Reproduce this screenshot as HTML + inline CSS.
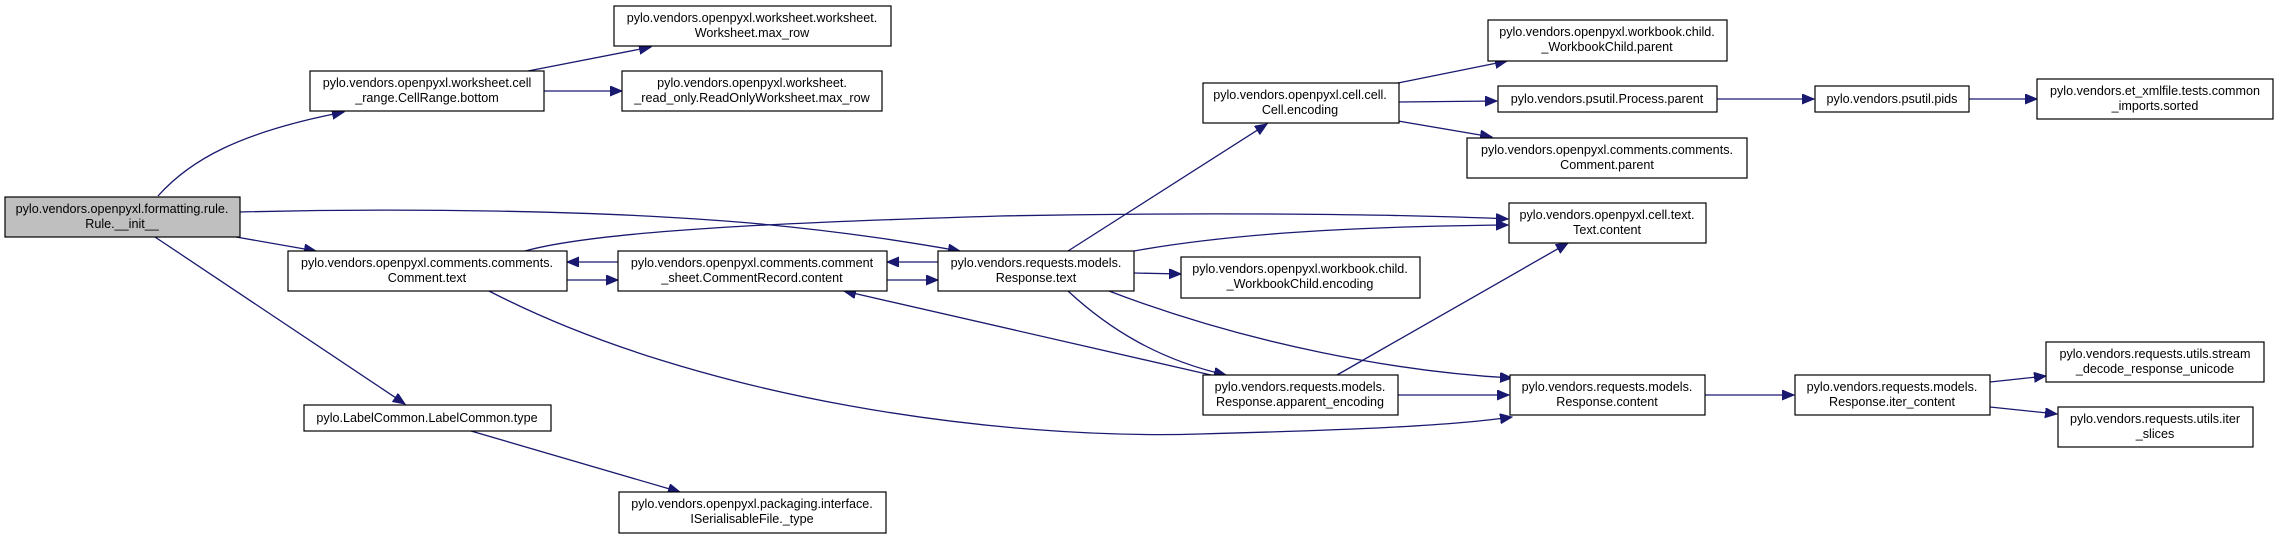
<!DOCTYPE html>
<html><head><meta charset="utf-8"><style>
html,body{margin:0;padding:0;background:#fff;}
svg{display:block;}
text{font-family:"Liberation Sans",sans-serif;font-size:12.6px;fill:#000;text-anchor:middle;}
rect{stroke:#000;stroke-width:1.2;fill:#fff;}
path{stroke:#191970;stroke-width:1.3;fill:none;}
</style></head><body>
<svg width="2279" height="539" viewBox="0 0 2279 539" xmlns="http://www.w3.org/2000/svg">
<defs>
<marker id="a" markerUnits="userSpaceOnUse" markerWidth="14" markerHeight="12" refX="12" refY="5" orient="auto">
<path d="M0,0 L12,5 L0,10 Z" style="fill:#191970;stroke:#191970;stroke-width:1"/>
</marker>
</defs>
<g marker-end="url(#a)">
<path d="M158,196 C190,160 240,132 344,112"/>
<path d="M528,71 L651,47"/>
<path d="M544,91 L622,91"/>
<path d="M240,212 C400,208 600,210 750,223 C850,232 920,244 960,251"/>
<path d="M525,251 C600,230 800,222 1000,216 C1200,212 1400,214 1508,219"/>
<path d="M236,237 L316,251"/>
<path d="M155,237 L405,404"/>
<path d="M471,431 L680,492"/>
<path d="M618,262 L567,262"/>
<path d="M567,280 L618,280"/>
<path d="M938,262 L887,262"/>
<path d="M887,280 L938,280"/>
<path d="M489,291 C700,400 1000,440 1200,434 C1350,430 1450,426 1512,417"/>
<path d="M1211,375 L844,291"/>
<path d="M1068,251 L1267,124"/>
<path d="M1134,273 L1181,274"/>
<path d="M1068,291 C1110,330 1160,360 1226,375"/>
<path d="M1109,291 C1250,345 1400,372 1512,378"/>
<path d="M1337,375 L1568,243"/>
<path d="M1134,251 C1250,230 1400,226 1508,225"/>
<path d="M1398,395 L1509,395"/>
<path d="M1398,83 L1507,61"/>
<path d="M1398,102 L1497,101"/>
<path d="M1398,121 L1492,137"/>
<path d="M1717,99 L1814,99"/>
<path d="M1969,99 L2037,99"/>
<path d="M1705,395 L1794,395"/>
<path d="M1990,382 L2046,376"/>
<path d="M1990,407 L2057,414"/>
</g>

<rect x="5" y="197" width="235" height="40" style="fill:#bfbfbf"/>
<text x="122" y="213">pylo.vendors.openpyxl.formatting.rule.</text>
<text x="122" y="228">Rule.__init__</text>

<rect x="310" y="71" width="234" height="40"/>
<text x="427" y="87">pylo.vendors.openpyxl.worksheet.cell</text>
<text x="427" y="102">_range.CellRange.bottom</text>

<rect x="614" y="6" width="277" height="40"/>
<text x="752" y="22">pylo.vendors.openpyxl.worksheet.worksheet.</text>
<text x="752" y="37">Worksheet.max_row</text>

<rect x="622" y="71" width="260" height="40"/>
<text x="752" y="87">pylo.vendors.openpyxl.worksheet.</text>
<text x="752" y="102">_read_only.ReadOnlyWorksheet.max_row</text>

<rect x="288" y="251" width="279" height="40"/>
<text x="427" y="267">pylo.vendors.openpyxl.comments.comments.</text>
<text x="427" y="282">Comment.text</text>

<rect x="618" y="251" width="269" height="40"/>
<text x="752" y="267">pylo.vendors.openpyxl.comments.comment</text>
<text x="752" y="282">_sheet.CommentRecord.content</text>

<rect x="304" y="405" width="247" height="26"/>
<text x="427" y="422">pylo.LabelCommon.LabelCommon.type</text>

<rect x="619" y="492" width="267" height="41"/>
<text x="752" y="508">pylo.vendors.openpyxl.packaging.interface.</text>
<text x="752" y="523">ISerialisableFile._type</text>

<rect x="938" y="251" width="196" height="40"/>
<text x="1036" y="267">pylo.vendors.requests.models.</text>
<text x="1036" y="282">Response.text</text>

<rect x="1203" y="83" width="196" height="40"/>
<text x="1300" y="99">pylo.vendors.openpyxl.cell.cell.</text>
<text x="1300" y="114">Cell.encoding</text>

<rect x="1181" y="257" width="239" height="41"/>
<text x="1300" y="273">pylo.vendors.openpyxl.workbook.child.</text>
<text x="1300" y="288">_WorkbookChild.encoding</text>

<rect x="1203" y="375" width="195" height="40"/>
<text x="1300" y="391">pylo.vendors.requests.models.</text>
<text x="1300" y="406">Response.apparent_encoding</text>

<rect x="1488" y="20" width="239" height="41"/>
<text x="1607" y="36">pylo.vendors.openpyxl.workbook.child.</text>
<text x="1607" y="51">_WorkbookChild.parent</text>

<rect x="1498" y="86" width="219" height="26"/>
<text x="1607" y="103">pylo.vendors.psutil.Process.parent</text>

<rect x="1467" y="138" width="280" height="40"/>
<text x="1607" y="154">pylo.vendors.openpyxl.comments.comments.</text>
<text x="1607" y="169">Comment.parent</text>

<rect x="1509" y="203" width="197" height="40"/>
<text x="1607" y="219">pylo.vendors.openpyxl.cell.text.</text>
<text x="1607" y="234">Text.content</text>

<rect x="1510" y="375" width="195" height="40"/>
<text x="1607" y="391">pylo.vendors.requests.models.</text>
<text x="1607" y="406">Response.content</text>

<rect x="1815" y="86" width="154" height="26"/>
<text x="1892" y="103">pylo.vendors.psutil.pids</text>

<rect x="2037" y="79" width="236" height="40"/>
<text x="2155" y="95">pylo.vendors.et_xmlfile.tests.common</text>
<text x="2155" y="110">_imports.sorted</text>

<rect x="1795" y="375" width="195" height="40"/>
<text x="1892" y="391">pylo.vendors.requests.models.</text>
<text x="1892" y="406">Response.iter_content</text>

<rect x="2046" y="342" width="218" height="40"/>
<text x="2155" y="358">pylo.vendors.requests.utils.stream</text>
<text x="2155" y="373">_decode_response_unicode</text>

<rect x="2058" y="407" width="195" height="40"/>
<text x="2155" y="423">pylo.vendors.requests.utils.iter</text>
<text x="2155" y="438">_slices</text>
</svg>
</body></html>
